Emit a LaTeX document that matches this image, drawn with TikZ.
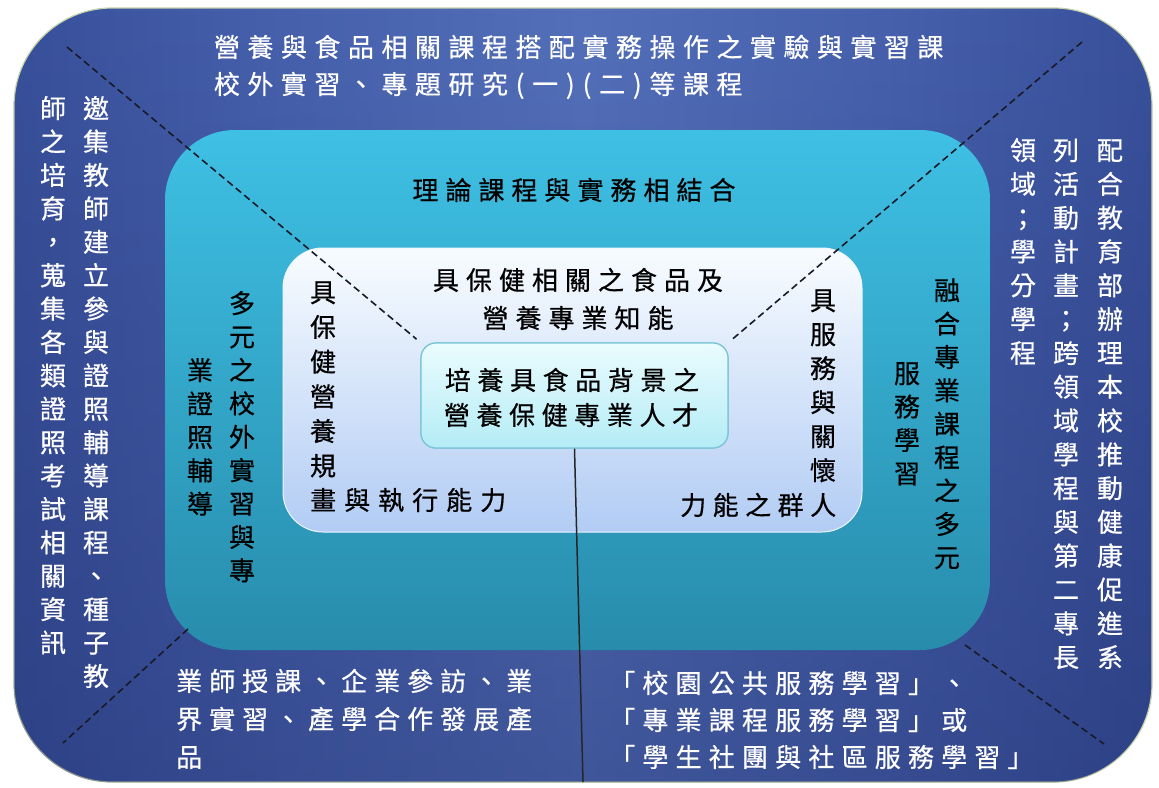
\documentclass[tikz,border=0pt]{standalone}
\usepackage{fontspec}
\newfontfamily\cjk[FakeBold=0.6]{Noto Sans CJK TC}
\usetikzlibrary{calc,fadings}

\definecolor{bglight}{RGB}{84,112,186}
\definecolor{bglight2}{RGB}{70,96,172}
\definecolor{bgmid}{RGB}{48,70,144}
\definecolor{bgdark}{RGB}{32,46,110}
\definecolor{bgdeep}{RGB}{26,37,94}
\definecolor{cyantop}{RGB}{62,192,228}
\definecolor{cyanbot}{RGB}{40,140,172}
\definecolor{innertop}{RGB}{248,252,255}
\definecolor{innerbot}{RGB}{178,204,244}
\definecolor{ctrtop}{RGB}{234,252,254}
\definecolor{ctrbot}{RGB}{180,236,246}
\definecolor{ctrline}{RGB}{120,196,214}
\definecolor{rimcol}{RGB}{196,210,170}
\definecolor{dashcol}{RGB}{25,25,40}

\pgfdeclarehorizontalshading{bgshade}{100bp}{color(0bp)=(bgdeep); color(6bp)=(bgdark); color(18bp)=(bgmid); color(36bp)=(bglight2); color(50bp)=(bglight); color(64bp)=(bglight2); color(82bp)=(bgmid); color(94bp)=(bgdark); color(100bp)=(bgdeep)}

\ExplSyntaxOn
\NewDocumentCommand \vcol { m m }
  {
    \vbox:n
      {
        \offinterlineskip
        \tl_map_inline:nn {#2}
          {
            \hbox_to_wd:nn { 1.1em }
              {
                \hss
                \vbox_to_ht:nn {#1} { \vss \hbox:n { \rule[-0.12em]{0pt}{1em} ##1 } \vss }
                \hss
              }
          }
      }
  }
\NewDocumentCommand \hrow { m m }
  {
    \hbox:n
      {
        \tl_map_inline:nn {#2}
          {
            \tl_if_in:nnTF { () } {##1}
              { \hbox_to_wd:nn { 0.5\dimexpr#1\relax } { \hss \rule[-0.12em]{0pt}{1em} ##1 \hss } }
              { \hbox_to_wd:nn {#1} { \hss \rule[-0.12em]{0pt}{1em} ##1 \hss } }
          }
      }
  }
\ExplSyntaxOff

\tikzset{
  outerbox/.style={draw=rimcol, line width=1.2pt, rounded corners=98pt, minimum width=1138pt, minimum height=774pt, inner sep=0pt, shade, shading=bgshade},
  cyanbox/.style={rounded corners=70pt, minimum width=825pt, minimum height=520pt, inner sep=0pt, top color=cyantop, bottom color=cyanbot},
  innerbox/.style={draw=white!80!innerbot, line width=1pt, rounded corners=40pt, minimum width=579pt, minimum height=284pt, inner sep=0pt, top color=innertop, bottom color=innerbot},
  ctrbox/.style={draw=ctrline, line width=1.2pt, rounded corners=15pt, minimum width=307pt, minimum height=105pt, inner sep=0pt, top color=ctrtop, bottom color=ctrbot},
  divider/.style={draw=dashcol, line width=1.6pt, dash pattern=on 7pt off 4pt},
  stem/.style={draw=black!85, line width=1.5pt},
  btxt/.style={inner sep=0pt, text=black, font=\cjk\fontsize{26}{26}\selectfont},
  wtxt/.style={inner sep=0pt, text=white, font=\cjk\fontsize{26}{26}\selectfont}
}

\begin{document}
\begin{tikzpicture}[x=1pt,y=-1pt]
\useasboundingbox (0,0) rectangle (1159,787);
\fill[white] (0,0) rectangle (1159,787);

% boxes
\node[outerbox] (outer) at (583,395) {};
\fill[bgdeep, path fading=north, fill opacity=0.35, rounded corners=98pt] (14,8) rectangle (1152,782);
\node[cyanbox] (cyan) at (577.5,390) {};
\node[innerbox] (inner) at (572.5,390) {};

% dividers
\coordinate (tlend) at (67,47);
\coordinate (trend) at (1082,42);
\coordinate (blstart) at (188,629);
\coordinate (blend) at (63,743);
\coordinate (brstart) at (965,645);
\coordinate (brend) at (1104,744);
\coordinate (stemend) at (583,782);

\node[ctrbox] (ctr) at (574.5,395.5) {};
\draw[divider, shorten >=5pt] (tlend) -- (ctr.north west);
\draw[divider, shorten >=5pt] (trend) -- (ctr.north east);
\draw[divider] (blstart) -- (blend);
\draw[divider] (brstart) -- (brend);
\node[ctrbox] (ctr2) at (574.5,395.5) {};
\draw[stem] (ctr2.south) -- (stemend);

% outer ring texts
\node[wtxt, anchor=west] (top1) at (210,47) {\hrow{33.5pt}{營養與食品相關課程搭配實務操作之實驗與實習課}};
\node[wtxt, anchor=west] (top2) at (210,85) {\hrow{33.5pt}{校外實習、專題研究(一)(二)等課程}};

\node[wtxt, anchor=north] (ol1) at (96,91.3) {\vcol{33.4pt}{邀集教師建立參與證照輔導課程、種子教}};
\node[wtxt, anchor=north] (ol2) at (53,91.3) {\vcol{33.4pt}{師之培育，蒐集各類證照考試相關資訊}};

\node[wtxt, anchor=north] (or1) at (1110,133) {\vcol{33.8pt}{配合教育部辦理本校推動健康促進系}};
\node[wtxt, anchor=north] (or2) at (1066,133) {\vcol{33.8pt}{列活動計畫；跨領域學程與第二專長}};
\node[wtxt, anchor=north] (or3) at (1023,133) {\vcol{33.8pt}{領域；學分學程}};

\node[wtxt, anchor=west] (bl1) at (172.5,681) {\hrow{33pt}{業師授課、企業參訪、業}};
\node[wtxt, anchor=west] (bl2) at (172.5,719) {\hrow{33pt}{界實習、產學合作發展產}};
\node[wtxt, anchor=west] (bl3) at (172.5,757) {\hrow{33pt}{品}};

\node[wtxt, anchor=west] (br1) at (605.4,683) {\hrow{33.2pt}{「校園公共服務學習」、}};
\node[wtxt, anchor=west] (br2) at (605.4,720) {\hrow{33.2pt}{「專業課程服務學習」或}};
\node[wtxt, anchor=west] (br3) at (605.4,757) {\hrow{33.2pt}{「學生社團與社區服務學習」}};

% cyan ring texts
\node[btxt] (ct) at (574,190) {\hrow{33pt}{理論課程與實務相結合}};
\node[btxt, anchor=north] (cl1) at (242,286.3) {\vcol{33.4pt}{多元之校外實習與專}};
\node[btxt, anchor=north] (cl2) at (200,353.3) {\vcol{33.4pt}{業證照輔導}};
\node[btxt, anchor=north] (cr1) at (947,273.3) {\vcol{33.4pt}{融合專業課程之多元}};
\node[btxt, anchor=north] (cr2) at (907,356.3) {\vcol{33.4pt}{服務學習}};

% inner texts
\node[btxt] (it1) at (578,280) {\hrow{33pt}{具保健相關之食品及}};
\node[btxt] (it2) at (578,318) {\hrow{33pt}{營養專業知能}};
\node[btxt, anchor=north] (il1) at (323,274.65) {\vcol{34.7pt}{具保健營養規}};
\node[btxt, anchor=west] (il2) at (306,500) {\hrow{34pt}{畫與執行能力}};
\node[btxt, anchor=north] (ir1) at (823,283) {\vcol{34pt}{具服務與關懷}};
\node[btxt, anchor=west] (ir2) at (676.75,505) {\hrow{32.5pt}{力能之群人}};

% center texts
\node[btxt] (cc1) at (572,380) {\hrow{32.6pt}{培養具食品背景之}};
\node[btxt] (cc2) at (571,415) {\hrow{32.6pt}{營養保健專業人才}};
\end{tikzpicture}
\end{document}
